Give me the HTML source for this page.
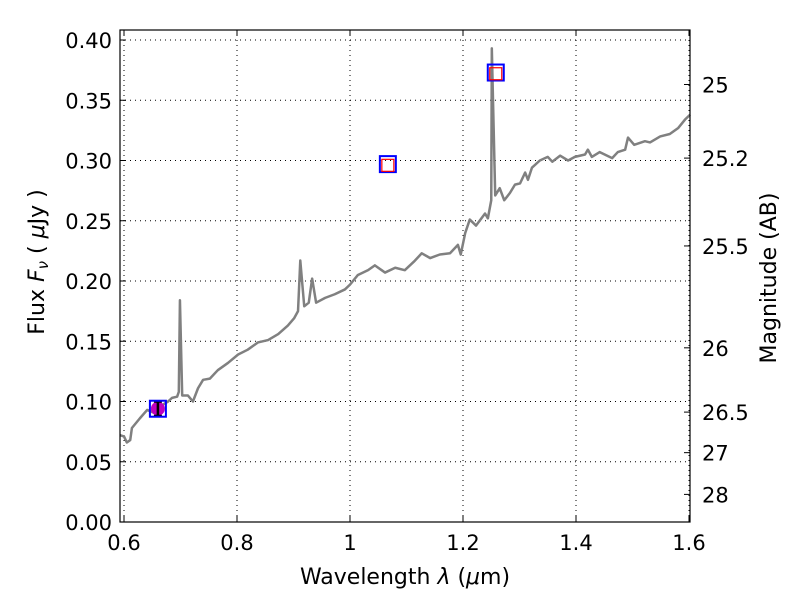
<!DOCTYPE html>
<html><head><meta charset="utf-8"><style>body{margin:0;background:#fff}svg{display:block;font-family:"DejaVu Sans","Liberation Sans",sans-serif}</style></head>
<body>
<svg id="chart" width="800" height="600" viewBox="0 0 800 600" xmlns="http://www.w3.org/2000/svg"></svg>
<script>
const wavelengths=[0.593,0.600,0.605,0.611,0.614,0.628,0.641,0.651,0.664,0.678,0.685,0.694,0.697,0.699,0.703,0.713,0.722,0.731,0.740,0.752,0.766,0.784,0.802,0.819,0.837,0.855,0.873,0.890,0.901,0.908,0.912,0.919,0.927,0.933,0.940,0.956,0.973,0.991,1.000,1.014,1.032,1.044,1.062,1.080,1.097,1.113,1.127,1.142,1.159,1.177,1.191,1.196,1.204,1.212,1.223,1.239,1.244,1.250,1.251,1.257,1.265,1.273,1.283,1.292,1.301,1.310,1.315,1.322,1.336,1.350,1.358,1.372,1.386,1.398,1.416,1.421,1.428,1.442,1.464,1.474,1.487,1.492,1.503,1.522,1.531,1.549,1.566,1.581,1.593,1.602];
const fluxes=[.072,.071,.066,.068,.078,.086,.093,.091,.096,.100,.103,.104,.108,.184,.105,.105,.100,.111,.118,.119,.126,.132,.139,.143,.149,.151,.156,.163,.169,.175,.217,.179,.182,.202,.182,.186,.189,.193,.197,.205,.209,.213,.207,.211,.209,.216,.223,.219,.222,.223,.230,.222,.240,.251,.246,.256,.252,.267,.393,.271,.277,.267,.273,.280,.281,.290,.284,.294,.300,.303,.299,.304,.300,.303,.305,.309,.303,.307,.302,.307,.309,.319,.313,.316,.315,.320,.322,.327,.334,.338];
const photLam=[0.66];
const photFlux=[0.094];
const photErr=[0.006];
const bandLam=[0.66,1.067,1.258];
const bandFlux=[0.094,0.297,0.373];
const synthLam=[1.067,1.258];
const synthFlux=[0.296,0.372];
const xTicks=[0.6,0.8,1.0,1.2,1.4,1.6];
const xTickLabels=["0.6","0.8","1","1.2","1.4","1.6"];
const yTicks=[0,0.05,0.10,0.15,0.20,0.25,0.30,0.35,0.40];
const yTickLabels=["0.00","0.05","0.10","0.15","0.20","0.25","0.30","0.35","0.40"];
const magTicks=[25,25.2,25.5,26,26.5,27,28];
const magTickLabels=["25","25.2","25.5","26","26.5","27","28"];

const L=120,R=690,T=30,B=522;
const X=v=>124+(v-0.6)*565;
const Y=v=>522-v*1205;
const svg=document.getElementById('chart');
const NS='http://www.w3.org/2000/svg';
function mk(tag,attrs,parent){const e=document.createElementNS(NS,tag);for(const k in attrs)e.setAttribute(k,attrs[k]);(parent||svg).appendChild(e);return e;}

const grid=mk('g',{});


xTicks.forEach(v=>mk('line',{x1:X(v),x2:X(v),y1:T,y2:B,stroke:'#000','stroke-width':1,'stroke-dasharray':'1,4'},grid));
yTicks.forEach(v=>mk('line',{x1:L,x2:R,y1:Y(v),y2:Y(v),stroke:'#000','stroke-width':1,'stroke-dasharray':'1,4'},grid));

const line=mk('polyline',{points:wavelengths.map((w,i)=>X(w)+','+Y(fluxes[i])).join(' '),fill:'none',stroke:'#808080','stroke-width':2.5,'stroke-linejoin':'round'});



photLam.forEach((w,i)=>{const c=mk('circle',{cx:X(w),cy:Y(photFlux[i]),r:7,fill:'#bf00bf'});


const g=mk('g',{stroke:'#000','stroke-width':2.5});


const y1=Y(photFlux[i]+photErr[i]),y2=Y(photFlux[i]-photErr[i]),x=X(w);
mk('line',{x1:x,x2:x,y1:y1,y2:y2},g);mk('line',{x1:x-4,x2:x+4,y1:y1,y2:y1},g);mk('line',{x1:x-4,x2:x+4,y1:y2,y2:y2},g);});
bandLam.forEach((w,i)=>{const r=mk('rect',{x:X(w)-8,y:Y(bandFlux[i])-8,width:16,height:16,fill:'none',stroke:'#0000ff','stroke-width':2});

});
synthLam.forEach((w,i)=>{const r=mk('rect',{x:X(w)-6,y:Y(synthFlux[i])-6,width:12,height:12,fill:'none',stroke:'#ff0000','stroke-width':1.2});

});

const frame=mk('rect',{x:L,y:T,width:R-L,height:B-T,fill:'none',stroke:'#000','stroke-width':1.2});



xTicks.forEach((v,i)=>{mk('line',{x1:X(v),x2:X(v),y1:B,y2:B-6,stroke:'#000'});mk('line',{x1:X(v),x2:X(v),y1:T,y2:T+6,stroke:'#000'});
const t=mk('text',{x:X(v),y:B+28,'font-size':21,'text-anchor':'middle'});t.textContent=xTickLabels[i];

});
yTicks.forEach((v,i)=>{mk('line',{x1:L,x2:L+6,y1:Y(v),y2:Y(v),stroke:'#000'});
const t=mk('text',{x:L-8,y:Y(v)+8,'font-size':21,'text-anchor':'end'});t.textContent=yTickLabels[i];

});
magTicks.forEach((m,i)=>{const f=Math.pow(10,(23.9-m)/2.5);const y=Y(f);mk('line',{x1:R,x2:R-6,y1:y,y2:y,stroke:'#000'});
const t=mk('text',{x:R+12,y:y+8,'font-size':21});t.textContent=magTickLabels[i];

});

let t=mk('text',{x:405,y:584,'font-size':22,'text-anchor':'middle'});t.innerHTML='Wavelength  <tspan font-style="italic">λ</tspan> (<tspan font-style="italic">μ</tspan>m)';


t=mk('text',{x:44,y:262,'font-size':22,'text-anchor':'middle',transform:'rotate(-90 44 262)'});t.innerHTML='Flux  <tspan font-style="italic">F</tspan><tspan font-style="italic" font-size="15" dy="4">ν</tspan><tspan dy="-4">  (  </tspan><tspan font-style="italic">μ</tspan>Jy )';


t=mk('text',{x:776,y:278,'font-size':22,'text-anchor':'middle',transform:'rotate(-90 776 278)'});t.textContent='Magnitude (AB)';


</script>
</body></html>
